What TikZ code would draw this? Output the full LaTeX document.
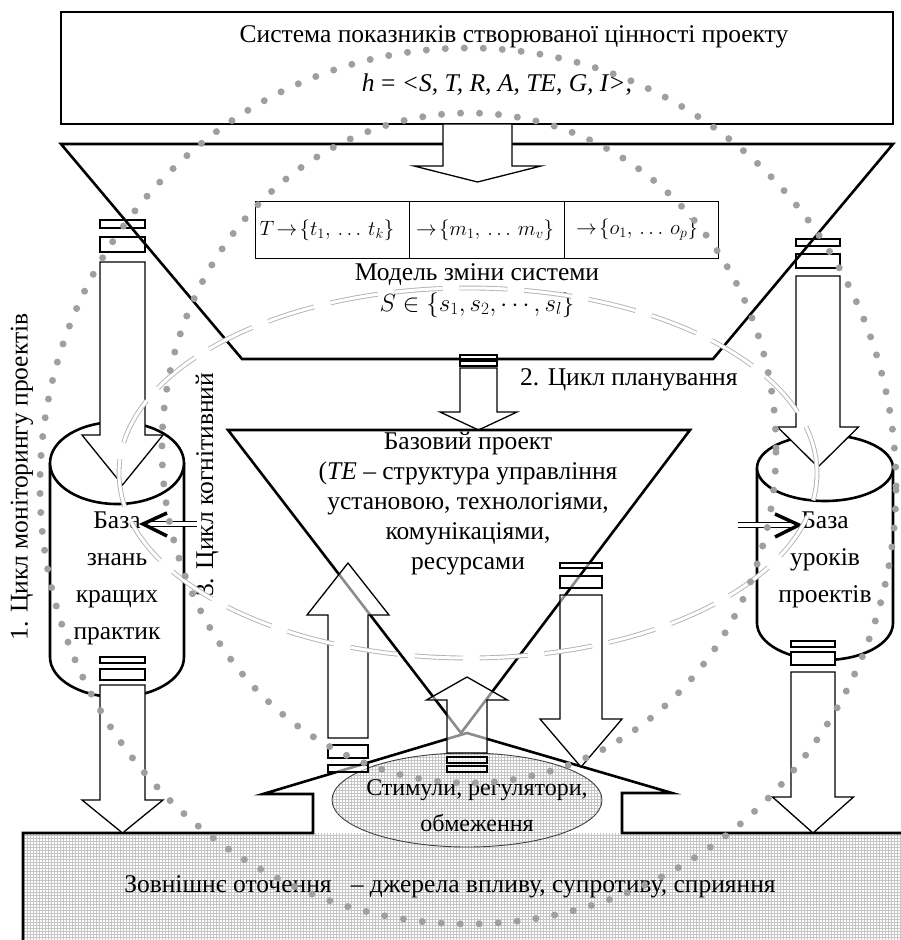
\documentclass[tikz,border=0pt]{standalone}
\usepackage{fontspec}
\setmainfont{Liberation Serif}
\newfontfamily\timesfont{Liberation Serif}
\usetikzlibrary{patterns, calc}

\tikzset{
  thickline/.style={line width=2.6pt, line join=miter},
  blockarrow/.style={draw, line width=1.3pt, fill=white, line join=miter},
  seearrow/.style={blockarrow, fill opacity=0.55},
  dotloop/.style={draw=gray!75, line width=7pt, line cap=round,
                  dash pattern=on 0pt off 19pt},
  dashloop/.style={draw=gray!60, double=white, double distance=3pt,
                   line width=0.9pt, dash pattern=on 48pt off 17pt},
  txt/.style={font=\timesfont\fontsize{25.5}{30}\selectfont, align=center, inner sep=0pt},
  mathtxt/.style={font=\fontsize{22}{26}\selectfont, inner sep=0pt},
}

% block arrow: [style] x, shaft start, head base, tip, shaft half width, head half width
\newcommand{\blockarr}[7][blockarrow]{%
  \draw[#1] ({#2-#6},#3) -- ({#2-#6},#4) -- ({#2-#7},#4) -- (#2,#5)
    -- ({#2+#7},#4) -- ({#2+#6},#4) -- ({#2+#6},#3) -- cycle;}
% stripe of a striped arrow: [style] x, half width, y from, y to
\newcommand{\stripe}[5][blockarrow]{%
  \draw[#1] ({#2-#3},#4) rectangle ({#2+#3},#5);}

\begin{document}
\begin{tikzpicture}[x=1pt, y=-1pt]
  \useasboundingbox (0,0) rectangle (900,940);

  % value indicators
  \draw[thickline] (61,12) rectangle (893,124);
  \node[txt] (title) at (514,37) {Система показників створюваної цінності проекту};
  \node[txt] (hvec) at (497,85) {\textit{h} = \textit{<S, T, R, A, TE, G, I>,}};

  % knowledge bases
  \draw[thickline, fill=white] (50,463) -- (50,657)
    arc[start angle=180, end angle=360, x radius=67pt, y radius=40pt] -- (184,463);
  \draw[thickline, fill=white] (117,463) ellipse [x radius=67pt, y radius=41pt];
  \draw[thickline, fill=white] (757,468) -- (757,623)
    arc[start angle=180, end angle=360, x radius=68pt, y radius=37pt] -- (893,468);
  \draw[thickline, fill=white] (825,468) ellipse [x radius=68pt, y radius=33pt];

  \stripe{122.5}{22.5}{220}{228}
  \stripe{122.5}{22.5}{237}{252}
  \blockarr{122.5}{262}{435}{485}{22.5}{40.5}
  \stripe{818}{22}{239}{246}
  \stripe{818}{22}{254}{268}
  \blockarr{818}{276}{427}{467}{22}{40.5}

  % change model
  \draw[thickline] (61,144) -- (893,144) -- (713,359) -- (242,359) -- cycle;
  \blockarr{477.5}{124}{166}{182}{34.5}{63.5}

  \draw[line width=0.8pt] (255,201) rectangle (718,258);
  \draw[line width=0.8pt] (409,201) -- (409,258);
  \draw[line width=0.8pt] (564,201) -- (564,258);
  \node[mathtxt] (cellT) at (327,230) {$T\!\rightarrow\!\{t_1,\,\ldots\,t_k\}$};
  \node[mathtxt] (cellM) at (485,230) {$\rightarrow\!\{m_1,\,\ldots\,m_v\}$};
  \node[mathtxt] (cellO) at (637,230) {$\rightarrow\!\{o_1,\,\ldots\,o_p\}$};
  \node[txt] (model) at (477,275) {Модель зміни системи};
  \node[mathtxt, font=\fontsize{23}{26}\selectfont] (states) at (477,305)
    {$S\in\{s_1,s_2,\cdots,s_l\}$};

  \stripe{478.5}{18.5}{355}{359}
  \stripe{478.5}{18.5}{361}{366}
  \blockarr{478.5}{368}{412}{430}{18.5}{38.5}
  \node[txt, anchor=west] (plan) at (520,380) {2. Цикл планування};

  % base project
  \draw[thickline] (228,430) -- (690,430) -- (461,733) -- cycle;
  \node[txt] (base) at (468,503.5) {Базовий проект\\(\textit{TE} – структура управління\\
    установою, технологіями,\\комунікаціями,\\ресурсами};

  % external environment
  \fill[pattern=grid, pattern color=gray!45] (23,833) rectangle (905,945);
  \draw[thickline] (23,945) -- (23,833) -- (313,833) -- (313,794) -- (263,794)
    -- (467,733) -- (672,793) -- (622,793) -- (622,833) -- (905,833);
  \draw[draw=gray!50!black, line width=0.9pt, pattern=grid, pattern color=gray!45]
    (467,800) ellipse [x radius=135pt, y radius=47pt];

  \stripe{122.5}{22.5}{657}{663}
  \stripe{122.5}{22.5}{669}{680}
  \blockarr{122.5}{685}{800}{833}{22.5}{40.5}
  \stripe{813}{22}{641}{647}
  \stripe{813}{22}{652}{665}
  \blockarr{813}{672}{797}{833}{22}{40.5}

  \stripe[seearrow]{348}{20}{765}{772}
  \stripe[seearrow]{348}{20}{745}{758}
  \blockarr[seearrow]{348}{738}{615}{563}{20}{41}
  \stripe[seearrow]{581}{21}{563}{568}
  \stripe[seearrow]{581}{21}{576}{588}
  \blockarr[seearrow]{581}{595}{719}{767}{21}{41}
  \stripe[seearrow]{467}{20}{757}{763}
  \stripe[seearrow]{467}{20}{766}{772}
  \blockarr[seearrow]{467}{753}{700}{677}{20}{40.5}

  % texts
  \node[txt, font=\timesfont\fontsize{25.5}{37}\selectfont] (bestkb) at (117,578)
    {База\\знань\\кращих\\практик};
  \node[txt, font=\timesfont\fontsize{25.5}{37}\selectfont] (lessons) at (825,560)
    {База\\уроків\\проектів};
  \node[txt, font=\timesfont\fontsize{24}{36}\selectfont] (stim) at (477,806)
    {Стимули, регулятори,\\обмеження};
  \node[txt] (env) at (450,887)
    {Зовнішнє оточення \ \ – джерела впливу, супротиву, сприяння};
  \node[txt, rotate=90] (cyc1) at (22,477) {1. Цикл моніторингу проектів};
  \node[txt, rotate=90] (cyc3) at (207,485) {3. Цикл когнітивний};

  % feedback into bases
  \coordinate (lkbtip) at (143,524);
  \coordinate (lkbtail) at (197,524);
  \draw[double, double distance=4pt, line width=0.8pt] (lkbtail) -- ($(lkbtip)+(6,0)$);
  \draw[line width=3.5pt] ($(lkbtip)+(24,-11)$) -- (lkbtip) -- ($(lkbtip)+(24,12)$);
  \coordinate (lsntip) at (799,525);
  \coordinate (lsntail) at (738,525);
  \draw[double, double distance=4pt, line width=0.8pt] (lsntail) -- ($(lsntip)+(-6,0)$);
  \draw[line width=3.5pt] ($(lsntip)+(-24,-11)$) -- (lsntip) -- ($(lsntip)+(-24,12)$);

  % cycles
  \draw[dashloop] (468,473) ellipse [x radius=349pt, y radius=185pt];
  \draw[dotloop] (468,486) ellipse [x radius=428pt, y radius=438pt];
  \draw[dotloop] (469,448) ellipse [x radius=307pt, y radius=335pt];
\end{tikzpicture}
\end{document}
